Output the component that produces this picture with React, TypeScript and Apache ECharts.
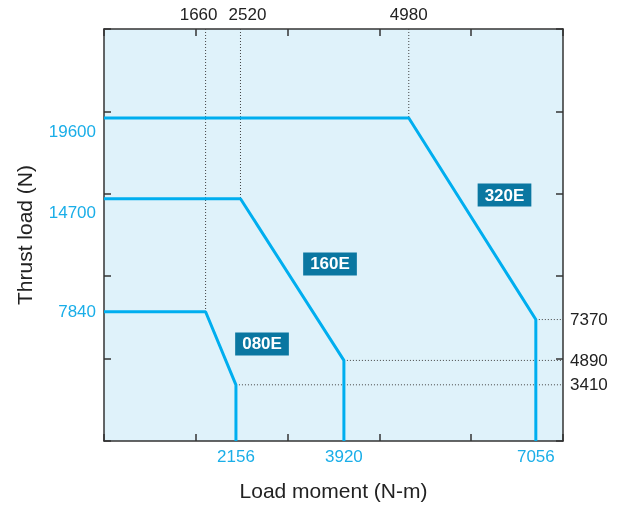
import React, { useEffect, useRef } from "react";
import * as echarts from "echarts";

// Axis ranges (schematic scale)
const X_MAX = 7500;
const X_STEP = 1500;
const Y_MAX = 25000;
const Y_STEP = 5000;

// Limit curves for each model: [load moment, thrust load]
const model080: number[][] = [[0, 7840], [1660, 7840], [2156, 3410], [2156, 0]];
const model160: number[][] = [[0, 14700], [2230, 14700], [3920, 4890], [3920, 0]];
const model320: number[][] = [[0, 19600], [4980, 19600], [7056, 7370], [7056, 0]];
const modelCurves = [model080, model160, model320];

// Model tags and their anchor points (data coordinates)
const modelNames = ["080E", "160E", "320E"];
const modelTagAnchors: number[][] = [[2582, 5890], [3693, 10745], [6544, 14921]];

// Tick labels
const bottomLabels = [2156, 3920, 7056];
const topLabelTexts = ["1660", "2520", "4980"];
const leftLabels = [19600, 14700, 7840];
const rightLabels = [7370, 4890, 3410];

const FONT = "'Liberation Sans', Arial, Helvetica, sans-serif";
const CYAN = "#00aeef";
const CYAN_TEXT = "#1aaee8";
const BG = "#dff2fa";
const TAG_BG = "#0a77a1";
const INK = "#222";
const AXIS = "#333";

export default function App() {
  const ref = useRef<HTMLDivElement>(null);

  useEffect(() => {
    if (!ref.current) return;
    const chart = echarts.init(ref.current, null, { renderer: "svg" });

    const topValues = modelCurves.map((c) => c[1][0]);

    const guideSeries: any[] = [];
    modelCurves.forEach((c) => {
      guideSeries.push({
        type: "line",
        data: [[c[1][0], Y_MAX], [c[1][0], c[1][1]]],
        symbol: "none",
        silent: true,
        z: 1,
        lineStyle: { color: "#444", width: 1, type: [1, 2] },
      });
      guideSeries.push({
        type: "line",
        data: [[c[2][0], c[2][1]], [X_MAX, c[2][1]]],
        symbol: "none",
        silent: true,
        z: 1,
        lineStyle: { color: "#444", width: 1, type: [1, 2] },
      });
    });

    const curveSeries = modelCurves.map((c, i) => ({
      type: "line",
      name: modelNames[i],
      data: c,
      symbol: "none",
      z: 3,
      lineStyle: { color: CYAN, width: 3 },
    }));

    const axisLine = { show: true, onZero: false, lineStyle: { color: AXIS, width: 1.5 } };
    const axisTick = { show: true, inside: true, length: 7, lineStyle: { color: AXIS, width: 1.5 } };
    const plain = (v: number) => String(v);

    const option: any = {
      animation: false,
      textStyle: { fontFamily: FONT },
      grid: {
        left: 104,
        right: 63,
        top: 29,
        bottom: 64,
        show: true,
        backgroundColor: BG,
        borderWidth: 0,
      },
      xAxis: [
        {
          type: "value",
          position: "bottom",
          min: 0,
          max: X_MAX,
          interval: X_STEP,
          name: "Load moment (N-m)",
          nameLocation: "middle",
          nameGap: 39,
          nameTextStyle: { fontSize: 21, color: INK, fontFamily: FONT },
          axisLine,
          axisTick,
          splitLine: { show: false },
          axisLabel: {
            customValues: bottomLabels,
            formatter: plain,
            color: CYAN_TEXT,
            fontSize: 17,
            margin: 7,
            fontFamily: FONT,
          },
        },
        {
          type: "value",
          position: "top",
          min: 0,
          max: X_MAX,
          interval: X_STEP,
          axisLine,
          axisTick,
          splitLine: { show: false },
          axisLabel: {
            customValues: topValues,
            color: INK,
            fontSize: 17,
            margin: 6,
            fontFamily: FONT,
            formatter: (v: number) => {
              const idx = topValues.indexOf(v);
              const t = idx >= 0 ? topLabelTexts[idx] : String(v);
              if (idx === 0) return `{l|${t}}`;
              if (idx === 1) return `{r|${t}}`;
              return `{n|${t}}`;
            },
            rich: {
              l: { fontSize: 17, color: INK, fontFamily: FONT, padding: [0, 14, 0, 0] },
              r: { fontSize: 17, color: INK, fontFamily: FONT, padding: [0, 0, 0, 14] },
              n: { fontSize: 17, color: INK, fontFamily: FONT },
            },
          },
        },
      ],
      yAxis: [
        {
          type: "value",
          position: "left",
          min: 0,
          max: Y_MAX,
          interval: Y_STEP,
          name: "Thrust load (N)",
          nameLocation: "middle",
          nameGap: 69,
          nameTextStyle: { fontSize: 21, color: INK, fontFamily: FONT },
          axisLine,
          axisTick,
          splitLine: { show: false },
          axisLabel: {
            customValues: leftLabels,
            color: CYAN_TEXT,
            fontSize: 17,
            margin: 8,
            fontFamily: FONT,
            formatter: (v: number) => {
              if (v === leftLabels[0]) return `{a|${v}}`;
              if (v === leftLabels[1]) return `{b|${v}}`;
              return `{c|${v}}`;
            },
            rich: {
              a: { fontSize: 17, color: CYAN_TEXT, fontFamily: FONT, padding: [27, 0, 0, 0] },
              b: { fontSize: 17, color: CYAN_TEXT, fontFamily: FONT, padding: [28, 0, 0, 0] },
              c: { fontSize: 17, color: CYAN_TEXT, fontFamily: FONT },
            },
          },
        },
        {
          type: "value",
          position: "right",
          min: 0,
          max: Y_MAX,
          interval: Y_STEP,
          axisLine,
          axisTick,
          splitLine: { show: false },
          axisLabel: {
            customValues: rightLabels,
            formatter: plain,
            color: INK,
            fontSize: 17,
            margin: 7,
            fontFamily: FONT,
          },
        },
      ],
      series: [
        ...guideSeries,
        ...curveSeries,
        {
          type: "scatter",
          z: 5,
          symbolSize: 1,
          itemStyle: { color: "transparent", opacity: 1 },
          data: modelNames.map((n, i) => ({ name: n, value: modelTagAnchors[i] })),
          label: {
            show: true,
            position: "inside",
            formatter: (p: any) => p.name,
            color: "#fff",
            fontWeight: "bold",
            fontSize: 17,
            fontFamily: FONT,
            lineHeight: 18,
            backgroundColor: TAG_BG,
            padding: [3, 7, 2, 7],
            opacity: 1,
          },
        },
      ],
    };

    chart.setOption(option);
    return () => chart.dispose();
  }, []);

  return (
    <div
      ref={ref}
      style={{ position: "fixed", left: 0, top: 0, width: 626, height: 506 }}
    />
  );
}
